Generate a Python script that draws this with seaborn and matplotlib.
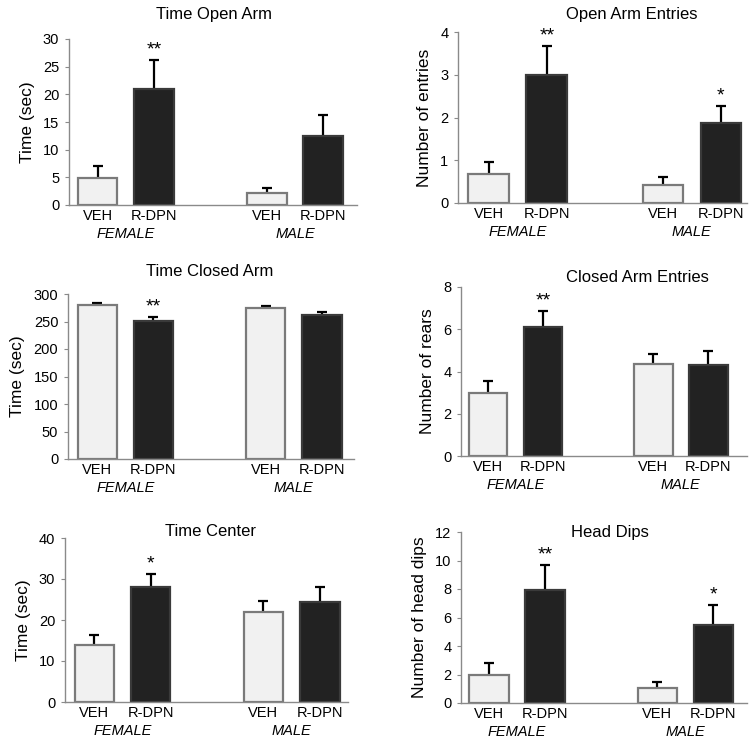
import numpy as np
import pandas as pd
import matplotlib
matplotlib.use("Agg")
import matplotlib.pyplot as plt
import seaborn as sns

# ---------------- data ----------------
treatments = ["VEH", "R-DPN", "VEH", "R-DPN"]
sexes = ["FEMALE", "FEMALE", "MALE", "MALE"]

titles = ["Time Open Arm", "Open Arm Entries", "Time Closed Arm",
          "Closed Arm Entries", "Time Center", "Head Dips"]
ylabels = ["Time (sec)", "Number of entries", "Time (sec)",
           "Number of rears", "Time (sec)", "Number of head dips"]

open_time_mean = [4.8, 21.0, 2.1, 12.4]
open_time_sem = [2.2, 5.2, 1.0, 3.8]
open_entries_mean = [0.67, 3.0, 0.43, 1.87]
open_entries_sem = [0.30, 0.67, 0.17, 0.40]
closed_time_mean = [280, 251, 275, 262]
closed_time_sem = [3, 7, 3, 6]
closed_entries_mean = [3.0, 6.13, 4.35, 4.3]
closed_entries_sem = [0.55, 0.75, 0.5, 0.67]
center_time_mean = [14.0, 28.0, 22.0, 24.4]
center_time_sem = [2.3, 3.2, 2.6, 3.6]
head_dips_mean = [2.0, 7.95, 1.05, 5.45]
head_dips_sem = [0.8, 1.75, 0.45, 1.45]

open_time_stars = ["", "**", "", ""]
open_entries_stars = ["", "**", "", "*"]
closed_time_stars = ["", "**", "", ""]
closed_entries_stars = ["", "**", "", ""]
center_time_stars = ["", "*", "", ""]
head_dips_stars = ["", "**", "", "*"]

yticks_list = [[0, 5, 10, 15, 20, 25, 30], [0, 1, 2, 3, 4],
               [0, 50, 100, 150, 200, 250, 300], [0, 2, 4, 6, 8],
               [0, 10, 20, 30, 40], [0, 2, 4, 6, 8, 10, 12]]

means = [open_time_mean, open_entries_mean, closed_time_mean,
         closed_entries_mean, center_time_mean, head_dips_mean]
sems = [open_time_sem, open_entries_sem, closed_time_sem,
        closed_entries_sem, center_time_sem, head_dips_sem]
stars = [open_time_stars, open_entries_stars, closed_time_stars,
         closed_entries_stars, center_time_stars, head_dips_stars]

# ---------------- layout (pixels) ----------------
W, H = 750, 744
boxes = [(69, 357, 205, 39), (458, 747, 203, 32),
         (68, 354, 459, 294), (461, 747, 456, 287),
         (65, 348, 702, 538), (461, 747, 703, 532)]
xlims = [(-0.51, 4.6), (-0.53, 4.45), (-0.52, 4.57),
         (-0.49, 4.7), (-0.52, 4.5), (-0.5, 4.6)]
title_pos = [(214, 15), (632, 15), (210, 272), (637, 277), (210, 531), (610, 532)]

sns.set_style("white")
plt.rcParams["font.family"] = ["Liberation Sans", "DejaVu Sans"]
plt.rcParams["text.color"] = "black"
plt.rcParams["axes.labelcolor"] = "black"
plt.rcParams["xtick.color"] = "black"
plt.rcParams["ytick.color"] = "black"

fig = plt.figure(figsize=(W / 100, H / 100), dpi=100)

light = "#f1f1f1"
dark = "#222222"
spine_c = "#8a8a8a"

sex_order = ["FEMALE", "MALE"]
trt_order = ["VEH", "R-DPN"]

for i in range(6):
    l, r, b, t = boxes[i]
    ax = fig.add_axes([l / W, 1 - b / H, (r - l) / W, (b - t) / H])
    pos = [sex_order.index(s) * 3 + trt_order.index(g) for s, g in zip(sexes, treatments)]
    df = pd.DataFrame({"pos": pos, "mean": means[i], "sem": sems[i],
                       "treatment": treatments, "sex": sexes})
    sns.barplot(data=df, x="pos", y="mean", hue="treatment",
                palette={"VEH": light, "R-DPN": dark}, native_scale=True,
                width=0.7, dodge=False, legend=False, errorbar=None,
                saturation=1, ax=ax, zorder=2)
    for p in ax.patches:
        fc = p.get_facecolor()
        if fc[0] > 0.5:
            p.set_edgecolor("#7a7a7a")
        else:
            p.set_edgecolor("#3a3a3a")
        p.set_linewidth(1.6)
    eb = ax.errorbar(df["pos"], df["mean"], yerr=[np.zeros(4), df["sem"]],
                     fmt="none", ecolor="black", elinewidth=1.6, capsize=3.5,
                     capthick=1.6, zorder=1.5)
    caps = eb[1]
    if len(caps) >= 2:
        caps[0].set_visible(False)
    ymax = yticks_list[i][-1]
    for x, m, s, st in zip(df["pos"], df["mean"], df["sem"], stars[i]):
        if st:
            ax.annotate(st, xy=(x, m + s), xytext=(0, 1), textcoords="offset points",
                        ha="center", va="bottom", fontsize=14,
                        annotation_clip=False)
    ax.set_xlim(*xlims[i])
    ax.set_ylim(0, ymax)
    ax.set_yticks(yticks_list[i])
    ax.set_xticks(df["pos"])
    ax.set_xticklabels(treatments, fontsize=10.5)
    ax.tick_params(axis="x", length=0, pad=3)
    ax.tick_params(axis="y", length=3, width=0.8, color=spine_c, labelsize=10.5, pad=4,
                   left=True)
    ax.set_xlabel("")
    ax.set_ylabel(ylabels[i], fontsize=12.5, labelpad=6)
    for sp in ["top", "right"]:
        ax.spines[sp].set_visible(False)
    for sp in ["left", "bottom"]:
        ax.spines[sp].set_color(spine_c)
        ax.spines[sp].set_linewidth(1.0)
    for k, sx in enumerate(sex_order):
        ax.annotate(sx, xy=(k * 3 + 0.5, 0), xycoords=("data", "axes fraction"),
                    xytext=(0, -21), textcoords="offset points", ha="center",
                    va="center", fontsize=10.5, fontstyle="italic",
                    annotation_clip=False)
    tx, ty = title_pos[i]
    fig.text(tx / W, 1 - ty / H, titles[i], ha="center", va="center", fontsize=12)

fig.savefig("out.png", dpi=100, facecolor="white")
